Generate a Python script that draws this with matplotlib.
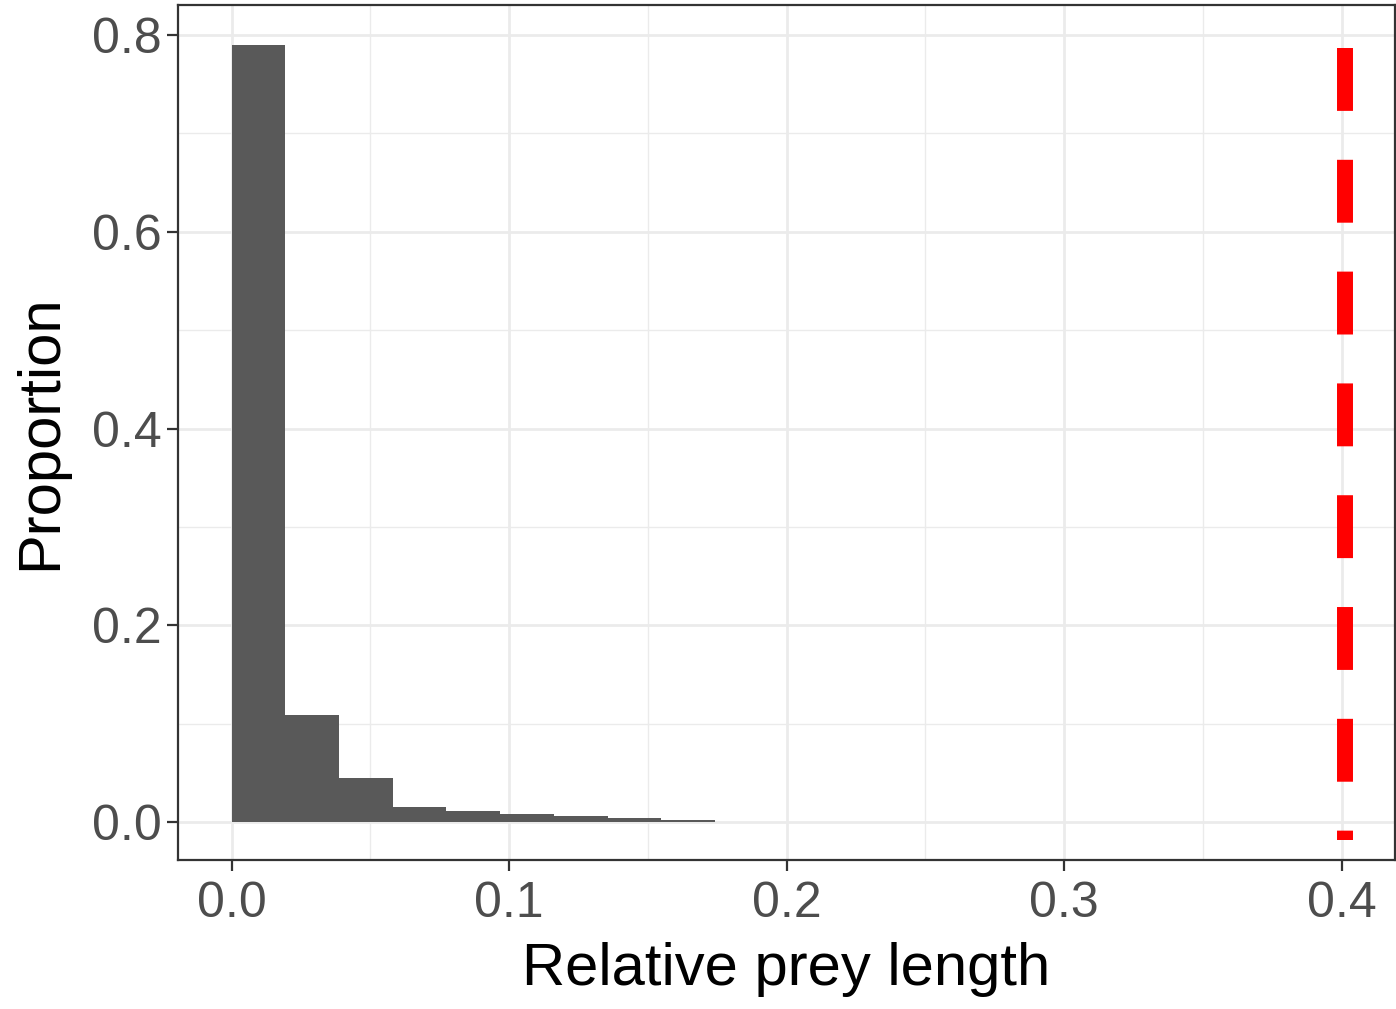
import numpy as np
import matplotlib
matplotlib.use("Agg")
import matplotlib.pyplot as plt
from matplotlib.ticker import MultipleLocator

# Histogram of relative prey length (proportions per bin)
bin_width = 0.01935
bin_starts = [i * bin_width for i in range(9)]
proportions = [0.790, 0.1088, 0.0444, 0.0152, 0.0115, 0.0078, 0.0058, 0.0037, 0.0017]

# Reference threshold shown as a dashed vertical line (drawn top to bottom)
threshold_x = 0.4013
threshold_y = [0.787, -0.0183]

x_ticks = [0.0, 0.1, 0.2, 0.3, 0.4]
x_ticklabels = ["0.0", "0.1", "0.2", "0.3", "0.4"]
y_ticks = [0.0, 0.2, 0.4, 0.6, 0.8]
y_ticklabels = ["0.0", "0.2", "0.4", "0.6", "0.8"]

plt.rcParams["font.family"] = ["Liberation Sans", "DejaVu Sans"]

fig = plt.figure(figsize=(13.96, 10.09), dpi=100)
ax = fig.add_axes([178 / 1396, 149 / 1009, 1217 / 1396, 855 / 1009])

grid_col = "#EBEBEB"
ax.set_axisbelow(True)
ax.xaxis.set_minor_locator(MultipleLocator(0.05))
ax.yaxis.set_minor_locator(MultipleLocator(0.1))
ax.grid(which="major", color=grid_col, linewidth=2.0)
ax.grid(which="minor", color=grid_col, linewidth=1.0)

ax.bar(bin_starts, proportions, width=bin_width, align="edge",
       color="#595959", edgecolor="none", zorder=2)

ax.plot([threshold_x, threshold_x], threshold_y, color="#FF0000",
        linewidth=11.5, linestyle=(0, (63 / 16, 49 / 16)),
        solid_capstyle="butt", dash_capstyle="butt", zorder=3)

ax.set_xlim(-0.01935, 0.4192)
ax.set_ylim(-0.0386, 0.8305)

ax.set_xticks(x_ticks)
ax.set_xticklabels(x_ticklabels)
ax.set_yticks(y_ticks)
ax.set_yticklabels(y_ticklabels)

ax.tick_params(which="major", length=8, width=1.6, color="#333333",
               labelsize=36, labelcolor="#4D4D4D")
ax.tick_params(axis="x", which="major", pad=7)
ax.tick_params(axis="y", which="major", pad=4)
ax.tick_params(which="minor", length=0)

for sp in ax.spines.values():
    sp.set_color("#333333")
    sp.set_linewidth(1.6)

ax.set_xlabel("Relative prey length", fontsize=43, color="black", labelpad=11)
ax.set_ylabel("Proportion", fontsize=43, color="black", labelpad=17)

fig.savefig("out.png", dpi=100, facecolor="white")
